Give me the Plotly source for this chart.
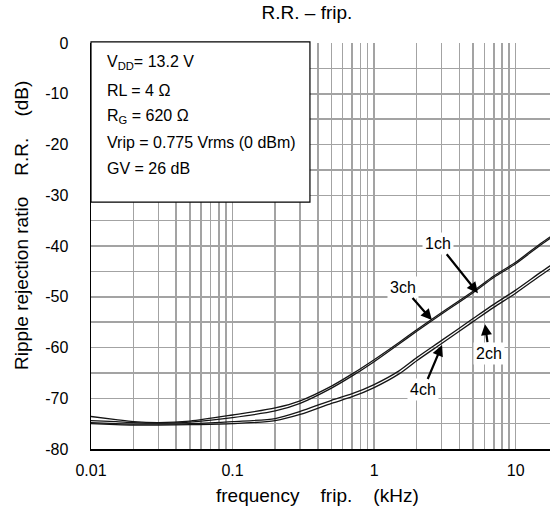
import math
import plotly.graph_objects as go

# ---- data ----
freq_khz = [0.01, 0.015, 0.02, 0.03, 0.05, 0.1, 0.2, 0.3, 0.5, 0.7, 1, 1.5, 2, 3, 5, 7, 10, 15, 20]
rr_1ch = [-73.6, -74.2, -74.6, -74.8, -74.5, -73.3, -71.9, -70.5, -67.6, -65.2, -62.4, -59.0, -56.5, -53.1, -48.9, -45.9, -43.2, -39.5, -37.1]
rr_3ch = [-74.4, -74.6, -74.8, -74.9, -74.7, -73.8, -72.5, -71.0, -68.0, -65.6, -62.8, -59.3, -56.8, -53.4, -49.2, -46.2, -43.5, -39.8, -37.4]
rr_2ch = [-74.8, -75.0, -75.1, -75.1, -75.0, -74.6, -74.0, -72.6, -70.4, -69.1, -67.3, -64.6, -62.0, -58.6, -54.3, -51.5, -48.7, -45.2, -42.8]
rr_4ch = [-75.0, -75.2, -75.3, -75.3, -75.2, -75.0, -74.4, -73.2, -71.0, -69.7, -67.9, -65.2, -62.6, -59.2, -54.9, -52.1, -49.3, -45.8, -43.4]

x_tick_vals = [0.01, 0.1, 1, 10]
x_tick_text = ["0.01", "0.1", "1", "10"]
y_tick_vals = [0, -10, -20, -30, -40, -50, -60, -70, -80]
y_tick_text = ["0", "-10", "-20", "-30", "-40", "-50", "-60", "-70", "-80"]

cond_lines = [
    "V<sub>DD</sub>= 13.2 V",
    "RL = 4 \u03a9",
    "R<sub>G</sub> = 620 \u03a9",
    "Vrip = 0.775 Vrms (0 dBm)",
    "GV = 26 dB",
]

# annotation labels: (label, tip freq kHz, tip dB, text dx px, text dy px)
ch_labels = [
    ("1ch", 5.41, -49.3, -40, -50),
    ("3ch", 2.56, -54.6, -29, -33),
    ("2ch", 6.07, -55.4, 4, 29),
    ("4ch", 3.02, -59.5, -19, 45),
]

FONT = "Arial, Liberation Sans, Helvetica, sans-serif"
NB = "\u00a0"

fig = go.Figure()
for name, ys in [("1ch", rr_1ch), ("3ch", rr_3ch), ("2ch", rr_2ch), ("4ch", rr_4ch)]:
    fig.add_trace(go.Scatter(x=freq_khz, y=ys, mode="lines", name=name,
                             line=dict(color="#151515", width=1.3, shape="spline", smoothing=0.8),
                             showlegend=False, hoverinfo="skip"))

# grid positions (1..9 per decade)
x_grid, x_text = [], []
for e in range(-2, 2):
    for m in range(1, 10):
        v = m * 10 ** e
        x_grid.append(v)
        x_text.append(x_tick_text[x_tick_vals.index(v)] if v in x_tick_vals else "")
y_grid, y_text = [], []
for v in range(0, -85, -5):
    y_grid.append(v)
    y_text.append(y_tick_text[y_tick_vals.index(v)] if v in y_tick_vals else "")

fig.update_xaxes(type="log", range=[-2, 1.2424], tickvals=x_grid, ticktext=x_text,
                 showgrid=True, gridcolor="#a3a3a3", gridwidth=1.5,
                 showline=True, linecolor="black", linewidth=1.5,
                 ticks="", ticklabelstandoff=6, automargin=False,
                 tickfont=dict(family=FONT, size=16, color="black"),
                 zeroline=False)
fig.update_yaxes(range=[-80, 0], tickvals=y_grid, ticktext=y_text,
                 showgrid=True, gridcolor="#a3a3a3", gridwidth=1.5,
                 showline=True, linecolor="black", linewidth=1.5,
                 ticks="", ticklabelstandoff=18, automargin=False,
                 tickfont=dict(family=FONT, size=16, color="black"),
                 zeroline=False)

# axis titles
fig.add_annotation(xref="paper", yref="paper", x=(317 - 91) / 459, y=(449 - 495) / 406,
                   text=f"frequency{NB*4}frip.{NB*4}(kHz)", showarrow=False,
                   xanchor="center", yanchor="middle",
                   font=dict(family=FONT, size=19, color="black"))
fig.add_annotation(xref="paper", yref="paper", x=(22 - 91) / 459, y=(449 - 226) / 406,
                   text=f"Ripple rejection ratio{NB*4}R.R.{NB*4}(dB)", showarrow=False,
                   textangle=-90, xanchor="center", yanchor="middle",
                   font=dict(family=FONT, size=19, color="black"))

# condition box
fig.add_shape(type="rect", xref="paper", yref="paper", x0=0.0, x1=0.477, y0=0.608, y1=1.003,
              line=dict(color="black", width=1.2), fillcolor="white", layer="above")
line_y = [0.953, 0.884, 0.818, 0.754, 0.690]
for txt, yy in zip(cond_lines, line_y):
    fig.add_annotation(xref="paper", yref="paper", x=0.0305, y=yy, text=txt, showarrow=False,
                       xanchor="left", yanchor="middle",
                       font=dict(family=FONT, size=16, color="black"))

for lab, fx, fy, dx, dy in ch_labels:
    fig.add_annotation(x=math.log10(fx), y=fy, xref="x", yref="y", text=lab,
                       showarrow=True, arrowhead=2, arrowsize=1.0, arrowwidth=2.2,
                       arrowcolor="black", ax=dx, ay=dy, bgcolor="white", borderpad=2,
                       font=dict(family=FONT, size=16, color="black"))

W, H = 550, 514
fig.update_layout(
    width=W, height=H,
    margin=dict(l=91, r=0, t=43, b=65),
    paper_bgcolor="white", plot_bgcolor="white",
    title=dict(text="R.R. \u2013 frip.", x=307 / W, xanchor="center", y=1 - 12 / H,
               yanchor="middle", font=dict(family=FONT, size=19, color="black")),
)

fig.write_html("out.html", config={"displayModeBar": False, "staticPlot": True},
               post_script="document.body.style.margin='0';document.body.style.overflow='hidden';")
